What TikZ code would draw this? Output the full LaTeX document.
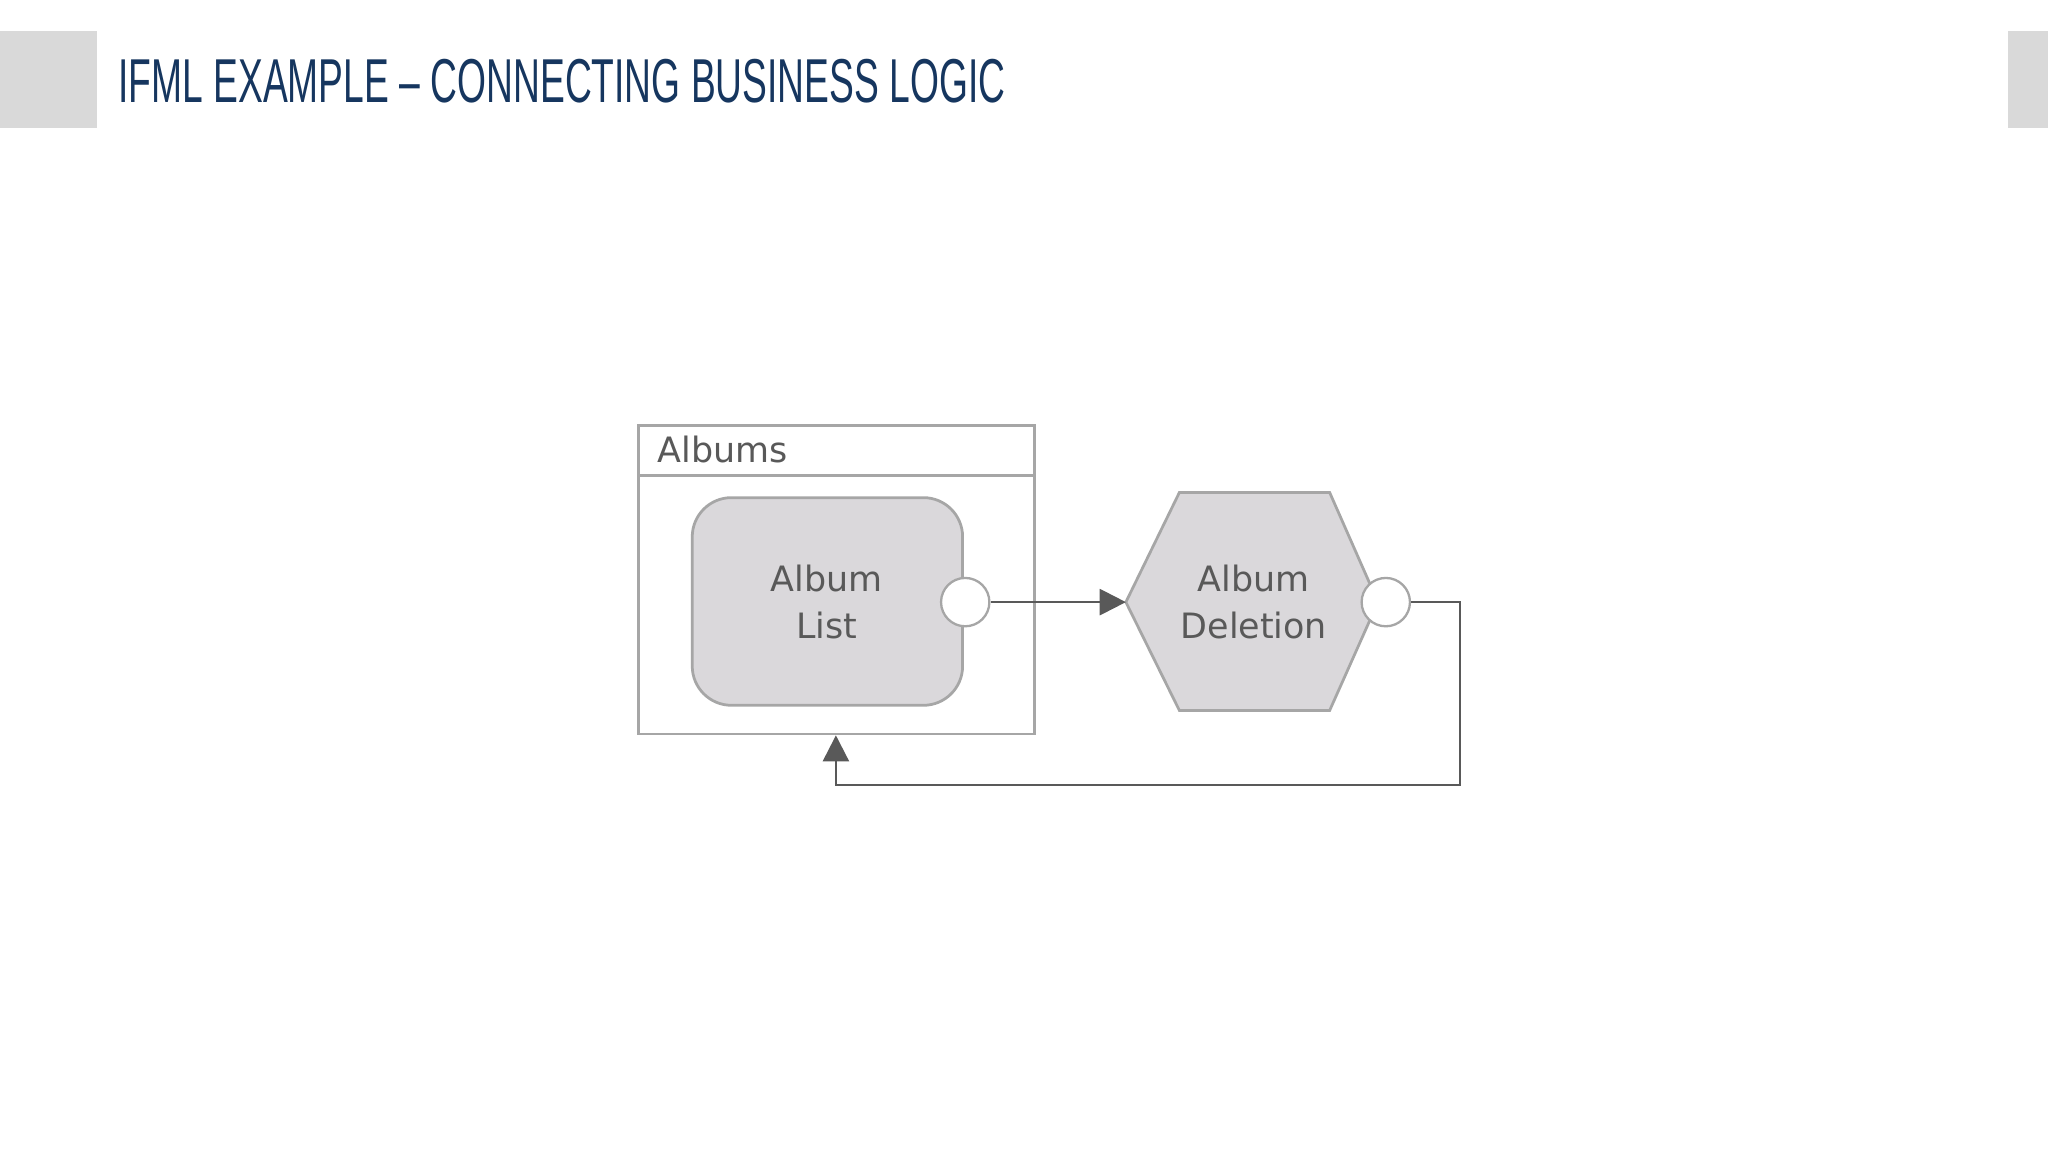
\documentclass[tikz,border=0pt]{standalone}
\usepackage{fontspec}
\setmainfont{DejaVu Sans}
\newfontfamily\titlefont[FakeStretch=0.60]{Liberation Sans}
\usetikzlibrary{arrows.meta}
\definecolor{navy}{HTML}{16365F}
\definecolor{boxgray}{HTML}{D9D9D9}
\definecolor{nodefill}{HTML}{DAD8DB}
\definecolor{edge}{HTML}{A6A6A6}
\definecolor{conn}{HTML}{595959}
\definecolor{txt}{HTML}{595959}
\tikzset{
  lbl/.style={font=\fontsize{7.6pt}{10.3pt}\selectfont, text=txt, align=center},
  port/.style={circle, draw=edge, fill=white, minimum size=0.37cm, inner sep=0pt, line width=0.5pt},
  flow/.style={draw=conn, line width=0.5pt, -{Triangle[length=0.2cm,width=0.2cm,fill=conn]}}
}
\begin{document}
\begin{tikzpicture}[x=0.01cm,y=-0.01cm]
\useasboundingbox[fill=white] (0,0) rectangle (1568,882);
\fill[boxgray] (0,24) rectangle (74,98);
\fill[boxgray] (1537,24) rectangle (1568,98);
\node[anchor=west, inner sep=0pt, text=navy, font=\titlefont\fontsize{13.5pt}{16pt}\selectfont] (title) at (90,62) {IFML EXAMPLE – CONNECTING BUSINESS LOGIC};
% container
\draw[edge, line width=0.6pt] (489,326) rectangle (792,562);
\draw[edge, line width=0.6pt] (489,364) -- (792,364);
\node[lbl, anchor=west, inner sep=0pt] (albums) at (503,344) {Albums};
\coordinate (boxbottom) at (640,563);
% album list
\draw[edge, fill=nodefill, rounded corners=0.3cm, line width=0.6pt] (530,381) rectangle (737,540);
\node[lbl] (list) at (633,461) {Album\\List};
\node[port] (p1) at (739,461) {};
% hexagon
\draw[edge, fill=nodefill, line width=0.6pt] (862,461) -- (903,377) -- (1018,377) -- (1055,461) -- (1018,544) -- (903,544) -- cycle;
\coordinate (hexleft) at (862,461);
\node[lbl] (del) at (960,461) {Album\\Deletion};
\node[port] (p2) at (1061,461) {};
\draw[flow] (p1.east) -- (hexleft);
\draw[flow] (p2.east) -- (1118,461) -- (1118,601) -- (640,601) -- (boxbottom);
\end{tikzpicture}
\end{document}
